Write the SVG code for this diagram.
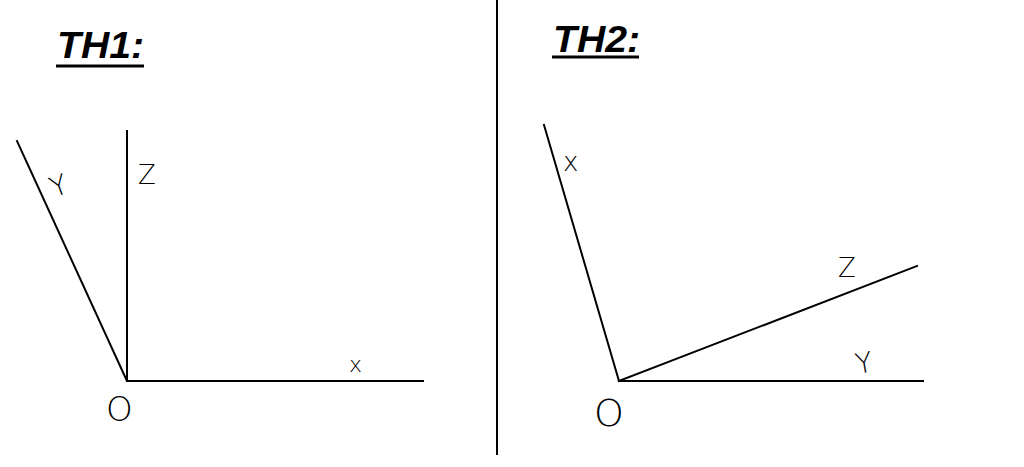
<svg xmlns="http://www.w3.org/2000/svg" width="1024" height="467" viewBox="0 0 1024 467">
<style>
.ax{stroke:#000;stroke-width:2;fill:none;stroke-linecap:square}
.ttl{font-family:"Liberation Sans",Arial,sans-serif;font-weight:bold;font-style:italic;font-size:36px;fill:#000}
.ul{stroke:#000;stroke-width:3}
.lbl{font-family:"DejaVu Sans","Liberation Sans",sans-serif;font-weight:200;fill:#000}
</style>
<rect width="1024" height="467" fill="#fff"/>
<line x1="497" y1="0" x2="497" y2="455" stroke="#000" stroke-width="2"/>
<g id="th1">
<text class="ttl" x="57" y="58" textLength="87" lengthAdjust="spacingAndGlyphs">TH1:</text>
<line class="ul" x1="56" y1="66" x2="144" y2="66"/>
<g id="th1-axes">
<line class="ax" x1="127" y1="381" x2="127" y2="131"/>
<line class="ax" x1="127" y1="381" x2="17" y2="141"/>
<line class="ax" x1="127" y1="381" x2="423" y2="381"/>
</g>
<text class="lbl" x="138" y="184" font-size="26">Z</text>
<text class="lbl" x="49" y="194" font-size="28" transform="rotate(-20 62 182)">Y</text>
<text class="lbl" x="349" y="372" font-size="22">x</text>
<text class="lbl" x="106" y="421" font-size="34">O</text>
</g>
<g id="th2">
<text class="ttl" x="553" y="52" textLength="87" lengthAdjust="spacingAndGlyphs">TH2:</text>
<line class="ul" x1="552" y1="57" x2="639" y2="57"/>
<g id="th2-axes">
<line class="ax" x1="619" y1="381" x2="544" y2="125"/>
<line class="ax" x1="619" y1="381" x2="917" y2="266"/>
<line class="ax" x1="619" y1="381" x2="923" y2="381"/>
</g>
<text class="lbl" x="563" y="171" font-size="26">x</text>
<text class="lbl" x="838" y="277" font-size="26">Z</text>
<text class="lbl" x="855" y="372" font-size="28" transform="rotate(-10 868 360)">Y</text>
<text class="lbl" x="594" y="426" font-size="38">O</text>
</g>
</svg>
